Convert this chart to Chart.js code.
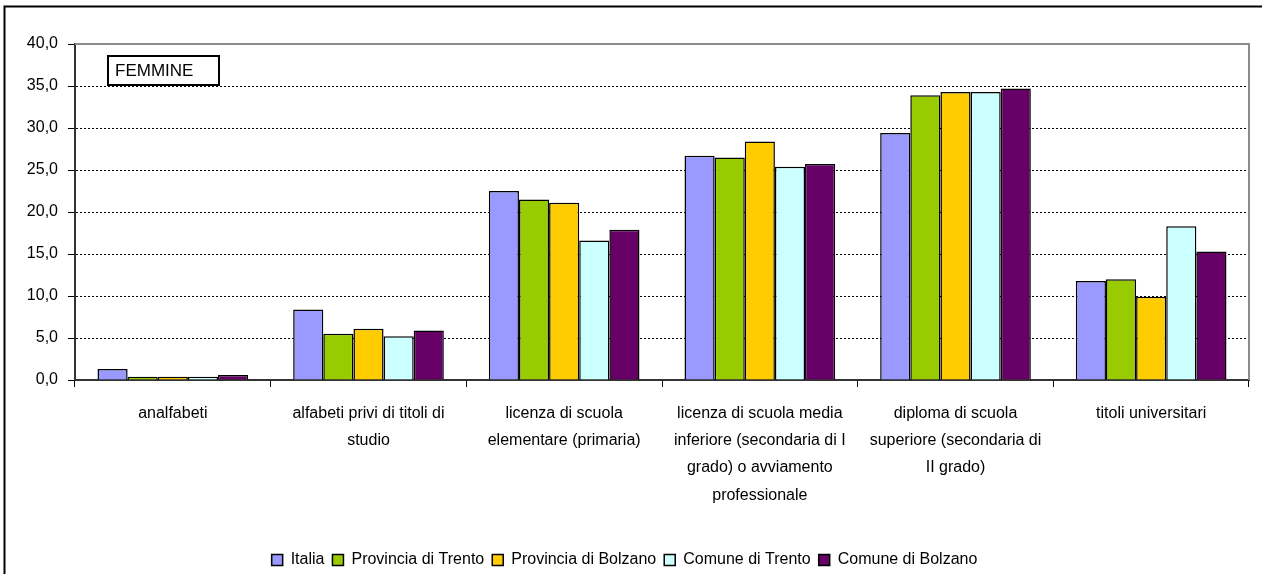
<!DOCTYPE html>
<html>
<head>
<meta charset="utf-8">
<script src="https://cdn.jsdelivr.net/npm/chart.js@4.4.1/dist/chart.umd.min.js"></script>
<style>
  html, body { margin: 0; padding: 0; background: #fff; }
  #wrap { width: 1262px; height: 574px; }
</style>
</head>
<body>
<div id="wrap"><canvas id="chart" width="1262" height="574"></canvas></div>
<script>
const categories = [
  'analfabeti',
  ['alfabeti privi di titoli di', 'studio'],
  ['licenza di scuola', 'elementare (primaria)'],
  ['licenza di scuola media', 'inferiore (secondaria di I', 'grado) o avviamento', 'professionale'],
  ['diploma di scuola', 'superiore (secondaria di', 'II grado)'],
  'titoli universitari'
];

const italia = [1.3, 8.4, 22.5, 26.7, 29.4, 11.8];
const provTrento = [0.4, 5.5, 21.5, 26.5, 33.9, 12.0];
const provBolzano = [0.4, 6.1, 21.1, 28.4, 34.3, 9.9];
const comTrento = [0.4, 5.2, 16.6, 25.4, 34.3, 18.3];
const comBolzano = [0.6, 5.9, 17.9, 25.7, 34.7, 15.3];

const yTicks = ['0,0', '5,0', '10,0', '15,0', '20,0', '25,0', '30,0', '35,0', '40,0'];

const FONT = '"Liberation Sans", Arial, sans-serif';

// frame round the picture, plot border and the FEMMINE label
const decor = {
  id: 'decor',
  beforeDraw(chart) {
    const ctx = chart.ctx;
    ctx.save();
    ctx.fillStyle = '#fff';
    ctx.fillRect(0, 0, chart.width, chart.height);
    ctx.strokeStyle = '#000';
    ctx.lineWidth = 2;
    ctx.beginPath();
    ctx.moveTo(4.5, chart.height);
    ctx.lineTo(4.5, 6.5);
    ctx.lineTo(chart.width, 6.5);
    ctx.stroke();
    ctx.restore();
  },
  beforeDatasetsDraw(chart) {
    const a = chart.chartArea;
    const ctx = chart.ctx;
    ctx.save();
    ctx.strokeStyle = '#8c8c8c';
    ctx.lineWidth = 2;
    ctx.beginPath();
    ctx.moveTo(a.left, a.top);
    ctx.lineTo(a.right, a.top);
    ctx.lineTo(a.right, a.bottom);
    ctx.stroke();
    ctx.restore();
  },
  afterDraw(chart) {
    const ctx = chart.ctx;
    ctx.save();
    ctx.fillStyle = '#fff';
    ctx.fillRect(108, 56, 111, 29);
    ctx.strokeStyle = '#000';
    ctx.lineWidth = 2;
    ctx.strokeRect(108, 56, 111, 29);
    ctx.fillStyle = '#000';
    ctx.font = '17px ' + FONT;
    ctx.textBaseline = 'middle';
    ctx.fillText('FEMMINE', 115, 71);
    ctx.restore();
  }
};

function ds(label, data, color) {
  return {
    label: label,
    data: data,
    backgroundColor: color,
    borderColor: '#000',
    borderWidth: 1.5,
    categoryPercentage: 0.77,
    barPercentage: 1.0
  };
}

new Chart(document.getElementById('chart'), {
  type: 'bar',
  data: {
    labels: categories,
    datasets: [
      ds('Italia', italia, '#9999FF'),
      ds('Provincia di Trento', provTrento, '#99CC00'),
      ds('Provincia di Bolzano', provBolzano, '#FFCC00'),
      ds('Comune di Trento', comTrento, '#CCFFFF'),
      ds('Comune di Bolzano', comBolzano, '#660066')
    ]
  },
  options: {
    responsive: false,
    animation: false,
    devicePixelRatio: 1,
    layout: { padding: { left: 0, top: 44, right: 13, bottom: -4 } },
    plugins: {
      legend: {
        position: 'bottom',
        labels: {
          boxWidth: 11,
          boxHeight: 11,
          padding: 8,
          color: '#000',
          font: { family: FONT, size: 16 }
        }
      },
      tooltip: { enabled: false }
    },
    scales: {
      x: {
        afterFit(scale) { scale.height = 164; },
        border: { display: true, color: '#333', width: 2 },
        grid: {
          display: true,
          drawOnChartArea: false,
          tickLength: 7,
          tickColor: '#000',
          tickWidth: 1
        },
        ticks: {
          color: '#000',
          padding: 13,
          maxRotation: 0,
          autoSkip: false,
          font: { family: FONT, size: 16, lineHeight: 1.7 }
        }
      },
      y: {
        min: 0,
        max: 40,
        afterFit(scale) { scale.width = 75; },
        border: { display: true, color: '#333', width: 2, dash: [2, 2] },
        grid: {
          color: ctx => (ctx.tick && ctx.tick.value === 40 ? 'rgba(0,0,0,0)' : '#000'),
          lineWidth: 1,
          tickLength: 7,
          tickColor: '#000',
          tickBorderDash: []
        },
        ticks: {
          stepSize: 5,
          color: '#000',
          padding: 10,
          font: { family: FONT, size: 16 },
          callback: (v, i) => yTicks[i]
        }
      }
    }
  },
  plugins: [decor]
});
</script>
</body>
</html>
